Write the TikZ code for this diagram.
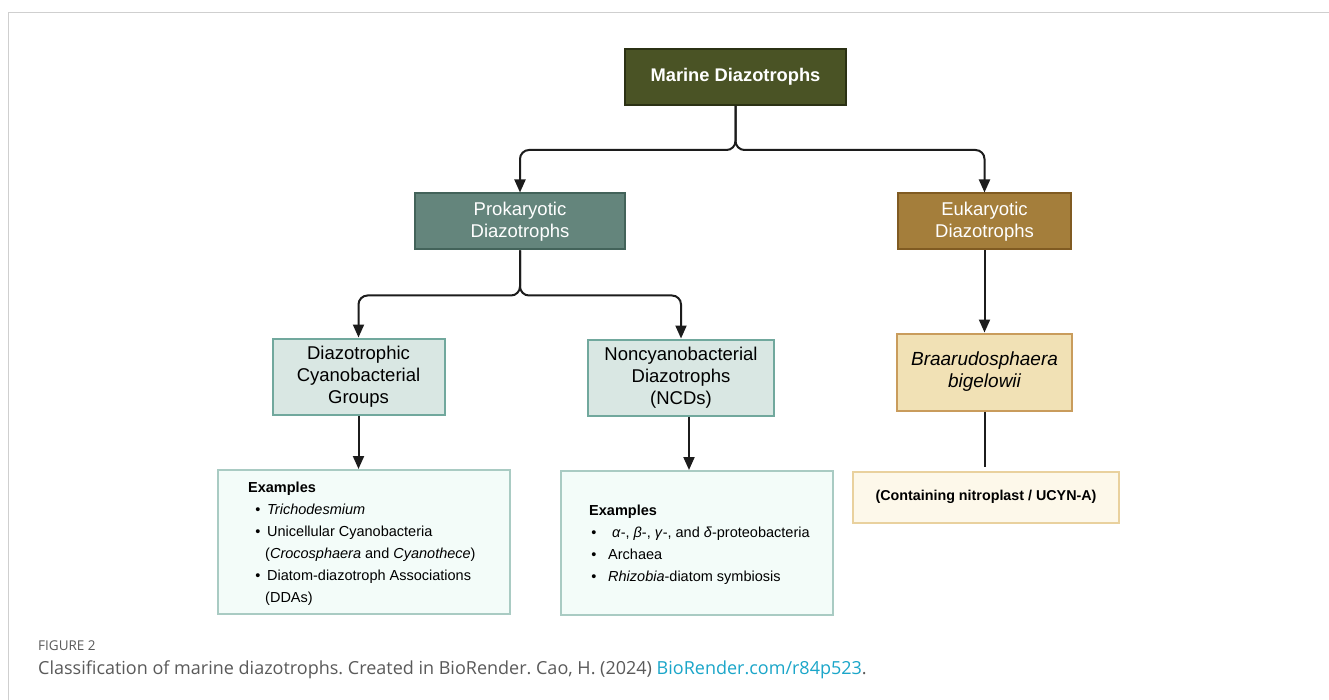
\documentclass[tikz,border=0pt]{standalone}
\usepackage{fontspec}
\setmainfont{Liberation Sans}
\newfontfamily\capfont{Open Sans}
\usetikzlibrary{arrows.meta}
\frenchspacing
\definecolor{marineF}{HTML}{4A5325}
\definecolor{marineD}{HTML}{2B3114}
\definecolor{prokF}{HTML}{64857C}
\definecolor{prokD}{HTML}{43635A}
\definecolor{eukF}{HTML}{A47E3B}
\definecolor{eukD}{HTML}{805B22}
\definecolor{cyanF}{HTML}{D9E7E3}
\definecolor{cyanD}{HTML}{71A89D}
\definecolor{braF}{HTML}{F1E1B5}
\definecolor{braD}{HTML}{C99C5C}
\definecolor{exF}{HTML}{F3FCF9}
\definecolor{exD}{HTML}{A9CBC3}
\definecolor{conF}{HTML}{FDF8EA}
\definecolor{conD}{HTML}{E9D19E}
\definecolor{lineC}{HTML}{1C1C1C}
\definecolor{frameC}{HTML}{CFCFCF}
\definecolor{capC}{HTML}{5A5A5A}
\definecolor{linkC}{HTML}{1BA6C9}
\tikzset{
  box/.style={draw, line width=2pt, rectangle, inner sep=0pt, align=center},
  conn/.style={draw=lineC, line width=2pt, rounded corners=9pt, -{Triangle[width=11pt,length=13pt]}},
  plainconn/.style={draw=lineC, line width=2pt},
  txt/.style={anchor=base west, inner sep=0pt, font=\fontsize{14.5}{17}\selectfont, text=black},
  bul/.style={anchor=base, inner sep=0pt, font=\fontsize{14.5}{17}\selectfont, text=black},
}
\begin{document}
\begin{tikzpicture}[x=1pt,y=-1pt]
\useasboundingbox (0,0) rectangle (1329,700);
\fill[white] (0,0) rectangle (1329,700);
\draw[frameC, line width=1pt] (8.5,700) -- (8.5,12.5) -- (1329,12.5);

% main boxes
\node[box, fill=marineF, draw=marineD, minimum width=221pt, minimum height=56pt, text=white,
  font=\fontsize{18.3}{22}\selectfont\bfseries] (marine) at (735.5,77) {Marine Diazotrophs};
\node[box, fill=prokF, draw=prokD, minimum width=210pt, minimum height=56pt, text=white,
  font=\fontsize{18.5}{22}\selectfont] (prok) at (520,221.5) {Prokaryotic\\Diazotrophs};
\node[box, fill=eukF, draw=eukD, minimum width=173pt, minimum height=56pt, text=white,
  font=\fontsize{18.5}{22}\selectfont] (euk) at (984.5,221.5) {Eukaryotic\\Diazotrophs};
\node[box, fill=cyanF, draw=cyanD, minimum width=172pt, minimum height=76pt,
  font=\fontsize{18.5}{22}\selectfont] (cyan) at (358.5,376.5) {Diazotrophic\\Cyanobacterial\\Groups};
\node[box, fill=cyanF, draw=cyanD, minimum width=186pt, minimum height=76pt,
  font=\fontsize{18.5}{22}\selectfont] (ncd) at (681,377.5) {Noncyanobacterial\\Diazotrophs\\(NCDs)};
\node[box, fill=braF, draw=braD, minimum width=175pt, minimum height=77pt,
  font=\fontsize{19}{22}\selectfont\itshape] (braar) at (984.5,372) {Braarudosphaera\\bigelowii};
\node[box, fill=exF, draw=exD, minimum width=292pt, minimum height=144pt] (exL) at (364,542) {};
\node[box, fill=exF, draw=exD, minimum width=272pt, minimum height=144pt] (exM) at (697,543) {};
\node[box, fill=conF, draw=conD, minimum width=266pt, minimum height=51pt,
  font=\fontsize{14.3}{17}\selectfont\bfseries] (cont) at (986,497) {(Containing nitroplast / UCYN-A)};

% left examples text
\node[txt] (lEx) at (248,492) {\textbf{Examples}};
\node[bul] (lb1) at (258,514) {\textbullet};
\node[txt] (l1) at (267,514) {\textit{Trichodesmium}};
\node[bul] (lb2) at (258,536) {\textbullet};
\node[txt] (l2) at (267,536) {Unicellular Cyanobacteria};
\node[txt] (l3) at (265,558) {(\textit{Crocosphaera} and \textit{Cyanothece})};
\node[bul] (lb3) at (258,580) {\textbullet};
\node[txt] (l4) at (267,580) {Diatom-diazotroph Associations};
\node[txt] (l5) at (265,602) {(DDAs)};

% middle examples text
\node[txt] (mEx) at (589,515) {\textbf{Examples}};
\node[bul] (mb1) at (594,537) {\textbullet};
\node[txt] (m1) at (612,537) {\textit{α}-, \textit{β}-, \textit{γ}-, and \textit{δ}-proteobacteria};
\node[bul] (mb2) at (594,559) {\textbullet};
\node[txt] (m2) at (608,559) {Archaea};
\node[bul] (mb3) at (594,581) {\textbullet};
\node[txt] (m3) at (608,581) {\textit{Rhizobia}-diatom symbiosis};

% connectors
\draw[conn] (marine.south) -- ++(0,44) -| (prok.north);
\draw[conn] (marine.south) -- ++(0,44) -| (euk.north);
\draw[conn] (prok.south) -- ++(0,45) -| (cyan.north);
\draw[conn] (prok.south) -- ++(0,45) -| (ncd.north);
\draw[conn] (cyan.south) -- (cyan.south |- exL.north);
\coordinate (ncdout) at ([xshift=8pt]ncd.south);
\draw[conn] (ncdout) -- (ncdout |- exM.north);
\draw[conn] (euk.south) -- (braar.north);
\coordinate (contin) at ([yshift=4pt]cont.north);
\draw[plainconn] (braar.south) -- (braar.south |- contin);

% caption
\node[anchor=base west, inner sep=0pt, text=capC, font=\capfont\fontsize{13.5}{15}\selectfont] (figlab) at (38,650) {FIGURE 2};
\node[anchor=base west, inner sep=0pt, text=capC, font=\capfont\fontsize{18}{20}\selectfont] (cap) at (38,674)
  {Classification of marine diazotrophs. Created in BioRender. Cao, H. (2024) \textcolor{linkC}{BioRender.com/r84p523}.};
\end{tikzpicture}
\end{document}
